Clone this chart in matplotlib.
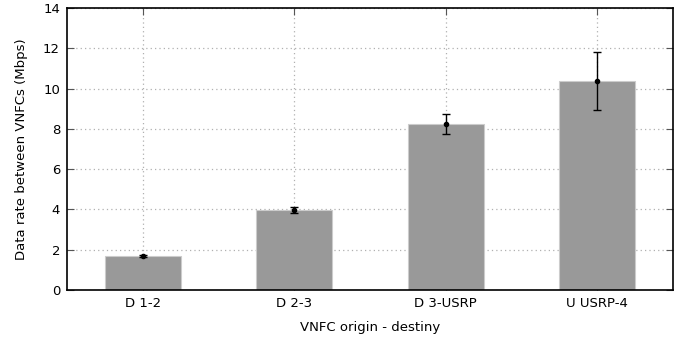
import numpy as np
import matplotlib.pyplot as plt

labels = ["D 1-2", "D 2-3", "D 3-USRP", "U USRP-4"]
rates = np.array([1.69, 3.97, 8.24, 10.36])
errors = np.array([0.04, 0.17, 0.52, 1.44])

x = np.arange(len(labels))

fig = plt.figure(figsize=(6.83, 3.39), dpi=100)
ax = fig.add_axes([67 / 683, 1 - 290 / 339, (673 - 67) / 683, (290 - 8) / 339])

ax.bar(x, rates, width=0.5, color="#999999", edgecolor="#cccccc", linewidth=0.8, zorder=2)
ax.errorbar(x, rates, yerr=errors, fmt="o", color="black", markersize=3,
            elinewidth=1, capsize=3, capthick=1, zorder=3)

ax.set_xlim(-0.5, 3.5)
ax.set_ylim(0, 14)
ax.set_xticks(x)
ax.set_xticklabels(labels)
ax.set_yticks(np.arange(0, 15, 2))
ax.tick_params(direction="in", top=True, right=True, labelsize=9.5, length=5,
               color="#555555", pad=5)
ax.grid(True, linestyle=(0, (1, 2.5)), color="#b0b0b0", linewidth=0.9, zorder=0)
ax.set_axisbelow(True)
for s in ax.spines.values():
    s.set_linewidth(1.2)

ax.set_xlabel("VNFC origin - destiny", fontsize=9.5, labelpad=8)
ax.set_ylabel("Data rate between VNFCs (Mbps)", fontsize=9.5, labelpad=11)

fig.savefig("out.png", dpi=100)
